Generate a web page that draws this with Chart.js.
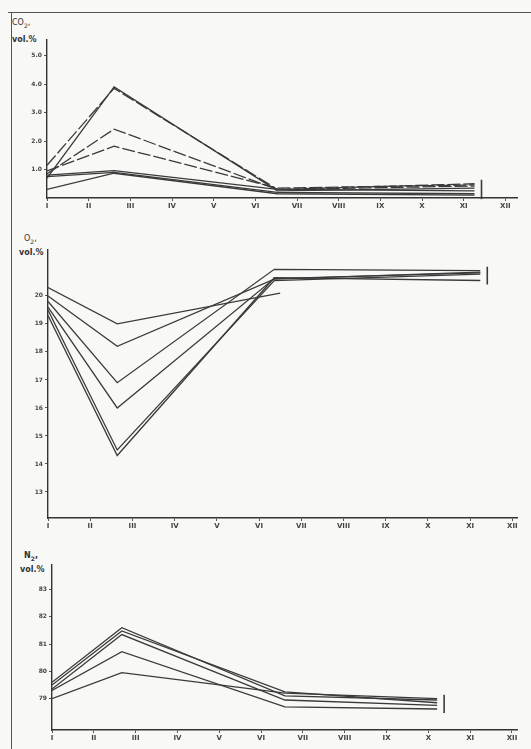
<!DOCTYPE html>
<html>
<head>
<meta charset="utf-8">
<script src="https://cdn.jsdelivr.net/npm/chart.js@4/dist/chart.umd.min.js"></script>
<style>
  html, body { margin: 0; padding: 0; background: #f8f8f6; }
  #page { position: relative; width: 531px; height: 749px; overflow: hidden; }
  canvas { position: absolute; left: 0; top: 0; }
  .frame-top { position: absolute; left: 8px; top: 12px; width: 523px; height: 0; border-top: 1.5px solid #555; }
  .frame-left { position: absolute; left: 11px; top: 12px; width: 0; height: 737px; border-left: 1.5px solid #555; }
  .ylab { position: absolute; font-family: 'DejaVu Sans', sans-serif; font-size: 8px; color: #333; line-height: 9px; }
  .ylab sub { font-size: 6px; }
  .ylab b { font-weight: bold; }
</style>
</head>
<body>
<div id="page">
  <div class="frame-top"></div>
  <div class="frame-left"></div>
  <div class="ylab" style="left:12px; top:18px;">CO<sub>2</sub>,</div>
  <div class="ylab" style="left:12px; top:35px;"><b>vol.%</b></div>
  <div class="ylab" style="left:24px; top:234px;">O<sub>2</sub>,</div>
  <div class="ylab" style="left:19px; top:248px;"><b>vol.%</b></div>
  <div class="ylab" style="left:24px; top:551px;"><b>N<sub>2</sub>,</b></div>
  <div class="ylab" style="left:20px; top:565px;"><b>vol.%</b></div>
  <canvas id="co2" width="531" height="749"></canvas>
  <canvas id="o2" width="531" height="749"></canvas>
  <canvas id="n2" width="531" height="749"></canvas>
</div>
<script>
// x axis: twelve numbered stages
const X_TICKS = [0, 1, 2, 3, 4, 5, 6, 7, 8, 9, 10, 11];
const X_LABELS = ['I', 'II', 'III', 'IV', 'V', 'VI', 'VII', 'VIII', 'IX', 'X', 'XI', 'XII'];

// CO2, vol.%
const CO2_TICKS = [1, 2, 3, 4, 5];
const CO2_X = [0, 1.61, 5.53, 10.26];
const CO2_A = [0.7, 3.9, 0.25, 0.35];
const CO2_B = [1.15, 3.85, 0.3, 0.5];
const CO2_C = [0.85, 2.42, 0.3, 0.42];
const CO2_D = [0.95, 1.82, 0.35, 0.46];
const CO2_E = [0.8, 0.96, 0.3, 0.25];
const CO2_F = [0.75, 0.9, 0.2, 0.15];
const CO2_G = [0.3, 0.87, 0.15, 0.1];

// O2, vol.%
const O2_TICKS = [13, 14, 15, 16, 17, 18, 19, 20];
const O2_X = [0, 1.64, 5.36, 10.24];
const O2_X_SHORT = [0, 1.64, 5.5];
const O2_A = [20.3, 19.0, 20.1];
const O2_B = [20.0, 18.2, 20.6, 20.85];
const O2_C = [19.8, 16.9, 20.95, 20.9];
const O2_D = [19.6, 16.0, 20.62, 20.82];
const O2_E = [19.5, 14.5, 20.55, 20.78];
const O2_F = [19.3, 14.3, 20.65, 20.55];

// N2, vol.%
const N2_TICKS = [79, 80, 81, 82, 83];
const N2_X = [0, 1.67, 5.57, 9.21];
const N2_A = [79.6, 81.6, 79.1, 78.95];
const N2_B = [79.5, 81.48, 79.25, 78.85];
const N2_C = [79.35, 81.35, 78.95, 78.75];
const N2_D = [79.3, 80.72, 78.7, 78.62];
const N2_E = [79.0, 79.95, 79.2, 79.0];

const INK = '#3a3a3a';

function pts(xs, ys) {
    return ys.map((y, i) => ({ x: xs[i], y: y }));
}

function series(xs, ys, dashed) {
    return {
        data: pts(xs, ys),
        borderColor: INK,
        borderWidth: 1.3,
        borderDash: dashed ? [13, 3] : [],
        pointRadius: 0,
        tension: 0,
        fill: false,
    };
}

// small vertical bracket just after the last points of each panel
const endBracket = {
    id: 'endBracket',
    afterDatasetsDraw(chart, args, opts) {
        const xs = chart.scales.x, ys = chart.scales.y;
        const lastVals = chart.data.datasets
            .map(d => d.data[d.data.length - 1])
            .filter(p => p.x === opts.at);
        if (!lastVals.length) return;
        const px = xs.getPixelForValue(opts.at) + opts.offset;
        const top = Math.min(...lastVals.map(p => ys.getPixelForValue(p.y))) - 4;
        const bot = Math.max(...lastVals.map(p => ys.getPixelForValue(p.y))) + 4;
        const ctx = chart.ctx;
        ctx.save();
        ctx.strokeStyle = INK;
        ctx.lineWidth = 1.6;
        ctx.beginPath();
        ctx.moveTo(px, top);
        ctx.lineTo(px, bot);
        ctx.stroke();
        ctx.restore();
    },
};

function makePanel(id, cfg) {
    const ctx = document.getElementById(id).getContext('2d');
    return new Chart(ctx, {
        type: 'line',
        data: { datasets: cfg.datasets },
        options: {
            responsive: false,
            animation: false,
            events: [],
            layout: { padding: { left: 0, top: cfg.top, right: 14, bottom: cfg.bottom } },
            plugins: {
                legend: { display: false },
                tooltip: { enabled: false },
                endBracket: { at: cfg.endAt, offset: 7 },
            },
            scales: {
                x: {
                    type: 'linear',
                    min: 0,
                    max: cfg.xMax,
                    afterFit: s => { s.height = 18; },
                    afterBuildTicks: s => { s.ticks = X_TICKS.map(v => ({ value: v })); },
                    grid: { drawOnChartArea: false, drawTicks: true, tickLength: 3, color: '#555' },
                    border: { display: true, color: '#333', width: 1.6 },
                    ticks: {
                        padding: 1,
                        color: '#444',
                        font: { family: 'DejaVu Sans', size: 7, weight: 'bold' },
                        callback: v => X_LABELS[Math.round(v)],
                    },
                },
                y: {
                    type: 'linear',
                    min: cfg.yMin,
                    max: cfg.yMax,
                    afterFit: s => { s.width = cfg.left; },
                    afterBuildTicks: s => { s.ticks = cfg.yTicks.map(v => ({ value: v })); },
                    grid: { drawOnChartArea: false, drawTicks: true, tickLength: 3, color: '#555' },
                    border: { display: true, color: '#333', width: 1.4 },
                    ticks: {
                        padding: 2,
                        color: '#444',
                        font: { family: 'DejaVu Sans', size: 6, weight: 'bold' },
                        callback: v => cfg.fmt(v),
                    },
                },
            },
        },
        plugins: [endBracket],
    });
}

makePanel('co2', {
    top: 40, bottom: 749 - 198 - 18, left: 47,
    xMax: 11.28, yMin: 0, yMax: 5.55, yTicks: CO2_TICKS, endAt: CO2_X[3],
    fmt: v => v.toFixed(1),
    datasets: [
        series(CO2_X, CO2_A, false),
        series(CO2_X, CO2_B, true),
        series(CO2_X, CO2_C, true),
        series(CO2_X, CO2_D, true),
        series(CO2_X, CO2_E, false),
        series(CO2_X, CO2_F, false),
        series(CO2_X, CO2_G, false),
    ],
});

makePanel('o2', {
    top: 250, bottom: 749 - 518 - 18, left: 48,
    xMax: 11.11, yMin: 12.07, yMax: 21.64, yTicks: O2_TICKS, endAt: O2_X[3],
    fmt: v => String(v),
    datasets: [
        series(O2_X_SHORT, O2_A, false),
        series(O2_X, O2_B, false),
        series(O2_X, O2_C, false),
        series(O2_X, O2_D, false),
        series(O2_X, O2_E, false),
        series(O2_X, O2_F, false),
    ],
});

makePanel('n2', {
    top: 565, bottom: 749 - 730 - 18, left: 52,
    xMax: 11.12, yMin: 77.85, yMax: 83.9, yTicks: N2_TICKS, endAt: N2_X[3],
    fmt: v => String(v),
    datasets: [
        series(N2_X, N2_A, false),
        series(N2_X, N2_B, false),
        series(N2_X, N2_C, false),
        series(N2_X, N2_D, false),
        series(N2_X, N2_E, false),
    ],
});
</script>
</body>
</html>
